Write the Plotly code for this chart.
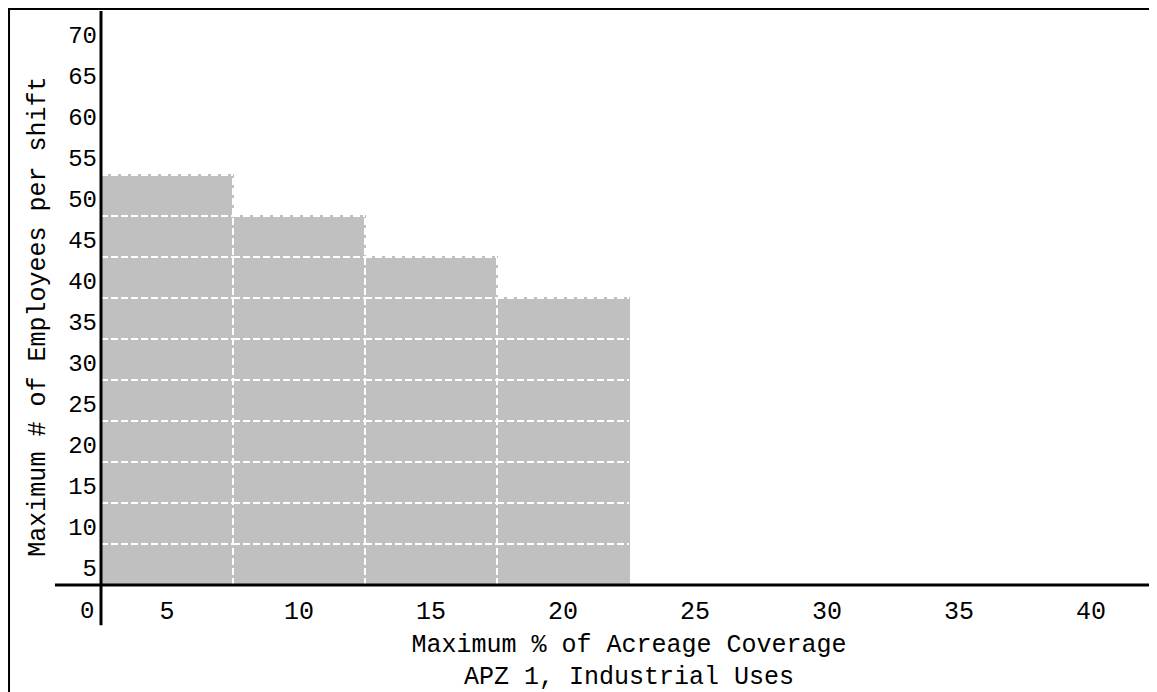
import plotly.graph_objects as go

# ---- data ----
coverage_pct = [5, 10, 15, 20, 25, 30, 35, 40]          # x categories (%)
max_employees = [50, 45, 40, 35, 0, 0, 0, 0]            # bar heights
y_tick_labels = [5, 10, 15, 20, 25, 30, 35, 40, 45, 50, 55, 60, 65, 70]
band = 5                                                 # employee band size
x_title = "Maximum % of Acreage Coverage<br>APZ 1, Industrial Uses"
y_title = "Maximum # of Employees per shift"

FONT = "Liberation Mono, Courier New, monospace"
GRAY = "#c0c0c0"

bar_w = coverage_pct[1] - coverage_pct[0]

fig = go.Figure()
fig.add_trace(go.Bar(
    x=coverage_pct, y=max_employees, width=bar_w,
    marker=dict(color=GRAY, line=dict(color=GRAY, width=2)),
    hoverinfo="x+y", showlegend=False,
))

# white dashed band separators drawn from the data
xs, ys = [], []
for c, v in zip(coverage_pct, max_employees):
    if v <= 0:
        continue
    for k in range(band, v + 1, band):
        xs += [c - bar_w / 2, c + bar_w / 2, None]
        ys += [k, k, None]
for i in range(1, len(coverage_pct)):
    a, b = max_employees[i - 1], max_employees[i]
    if a > 0 and b > 0:
        xb = (coverage_pct[i - 1] + coverage_pct[i]) / 2
        xs += [xb, xb, None]
        ys += [0, max(a, b), None]
fig.add_trace(go.Scatter(
    x=xs, y=ys, mode="lines", hoverinfo="skip", showlegend=False,
    line=dict(color="white", width=2, dash="7px,3px"),
))

x_lo = coverage_pct[0] - bar_w / 2
x_hi = coverage_pct[-1] + bar_w / 2
y_hi = y_tick_labels[-1]
label_shift = 0.35  # band labels sit slightly below the band centre

fig.update_layout(
    width=1149, height=684,
    margin=dict(l=93, r=0, t=3, b=107, autoexpand=False),
    paper_bgcolor="white", plot_bgcolor="white",
    font=dict(family=FONT, size=25, color="black"),
    bargap=0,
    xaxis=dict(
        range=[x_lo, x_hi], tickvals=coverage_pct,
        ticktext=[str(c) for c in coverage_pct],
        showgrid=False, zeroline=False, showline=False, ticks="",
        automargin=False, ticklabelstandoff=8,
        tickfont=dict(family=FONT, size=25),
        title=dict(text=x_title, font=dict(family=FONT, size=25), standoff=8),
    ),
    yaxis=dict(
        range=[0, y_hi],
        tickvals=[t - band / 2 - label_shift for t in y_tick_labels],
        ticktext=[str(t) for t in y_tick_labels],
        showgrid=False, zeroline=False, showline=False, ticks="",
        automargin=False,
        tickfont=dict(family=FONT, size=24),
        ticklabelstandoff=3,
    ),
    shapes=[
        # outer frame
        dict(type="rect", xref="paper", yref="paper", x0=-0.0871, x1=1.05,
             y0=-0.5, y1=1.0035, line=dict(color="black", width=2), layer="above"),
        # x axis line (extends left of y axis)
        dict(type="line", xref="paper", yref="paper", x0=-0.0436, x1=1.01,
             y0=0, y1=0, line=dict(color="black", width=3), layer="above"),
        # y axis line (extends below x axis)
        dict(type="line", xref="paper", yref="paper", x0=0, x1=0,
             y0=-0.07, y1=1.0, line=dict(color="black", width=3), layer="above"),
    ],
    annotations=[
        dict(text="0", xref="paper", yref="paper", x=-0.005, y=-0.047,
             xanchor="right", yanchor="middle", showarrow=False,
             font=dict(family=FONT, size=24)),
        dict(text=y_title, xref="paper", yref="paper", x=-0.059, y=0.467,
             xanchor="center", yanchor="middle", textangle=-90, showarrow=False,
             font=dict(family=FONT, size=25)),
    ],
)

fig.write_html("out.html")
